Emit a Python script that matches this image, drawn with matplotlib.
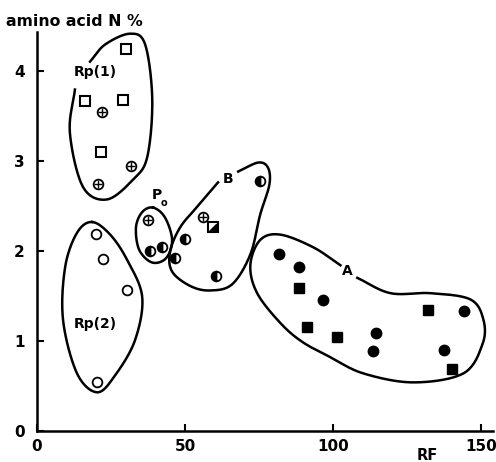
import numpy as np
import matplotlib.pyplot as plt
from matplotlib.path import Path

# point groups (RF, amino acid N %)
sq_open_x = [30.0, 16.2, 29.0, 21.6]
sq_open_y = [4.24, 3.66, 3.67, 3.10]
cross_x = [22.0, 31.7, 20.5, 37.5, 56.0]
cross_y = [3.54, 2.94, 2.74, 2.34, 2.37]
open_x = [19.8, 22.3, 30.4, 20.3]
open_y = [2.19, 1.91, 1.56, 0.54]
half_x = [38.2, 42.2, 46.6, 50.0, 60.5, 75.3]
half_y = [2.00, 2.04, 1.92, 2.13, 1.72, 2.78]
halfsq_x = [59.5]
halfsq_y = [2.26]
filled_x = [81.8, 88.5, 96.6, 114.5, 113.5, 144.0, 137.5]
filled_y = [1.97, 1.82, 1.45, 1.09, 0.89, 1.33, 0.90]
sq_fill_x = [88.5, 91.2, 101.3, 131.8, 139.9]
sq_fill_y = [1.59, 1.16, 1.04, 1.34, 0.69]

# hand drawn group outlines (control points)
rp1_line = [(17.9, 4.10), (23.0, 4.29), (31.4, 4.41), (36.5, 4.29), (38.9, 3.68),
            (37.2, 3.04), (32.4, 2.79), (23.6, 2.57), (15.5, 2.71), (11.1, 3.31),
            (12.8, 3.79)]
rp2_line = [(18.6, 2.32), (24.7, 2.18), (30.4, 1.90), (35.5, 1.49), (33.1, 1.01),
            (26.4, 0.62), (20.3, 0.43), (13.5, 0.64), (8.8, 1.23), (9.5, 1.82),
            (13.5, 2.20)]
po_line = [(39.2, 2.48), (43.2, 2.37), (45.6, 2.12), (43.6, 1.92), (38.9, 1.87),
           (34.5, 2.01), (33.4, 2.26), (35.5, 2.43)]
b_line = [(61.1, 2.76), (54.1, 2.49), (48.3, 2.26), (44.9, 1.99), (45.6, 1.77),
          (51.7, 1.61), (58.4, 1.56), (65.9, 1.63), (72.0, 1.96), (75.3, 2.40),
          (78.4, 2.73), (78.0, 2.92), (74.7, 2.98), (67.9, 2.88)]
a_line = [(108.1, 1.70), (119.3, 1.53), (132.8, 1.53), (146.3, 1.46), (150.7, 1.23),
          (150.3, 0.96), (143.9, 0.64), (127.0, 0.54), (110.1, 0.64), (99.0, 0.82),
          (89.5, 0.99), (82.1, 1.20), (74.3, 1.53), (72.0, 1.84), (75.3, 2.12),
          (82.1, 2.18), (93.2, 2.04), (102.4, 1.84)]


def smooth(pts, closed=False, n=20):
    p = np.array(pts, dtype=float)
    if closed:
        p = np.vstack([p[-1], p, p[0], p[1]])
    else:
        p = np.vstack([2 * p[0] - p[1], p, 2 * p[-1] - p[-2]])
    t = np.linspace(0, 1, n, endpoint=False)[:, None]
    out = []
    for i in range(1, len(p) - 2):
        p0, p1, p2, p3 = p[i - 1], p[i], p[i + 1], p[i + 2]
        out.append(0.5 * (2 * p1 + (-p0 + p2) * t + (2 * p0 - 5 * p1 + 4 * p2 - p3) * t**2
                          + (-p0 + 3 * p1 - 3 * p2 + p3) * t**3))
    out.append(p[-2][None, :])
    return np.vstack(out)


fig = plt.figure(figsize=(4.96, 4.62), dpi=100)
ax = fig.add_axes([0.0746, 0.067, 0.92, 0.864])

lw = 1.8
for pts, closed in ((rp1_line, False), (rp2_line, True), (po_line, True),
                    (b_line, False), (a_line, False)):
    c = smooth(pts, closed)
    ax.plot(c[:, 0], c[:, 1], color='black', lw=lw)

ms = 7
ax.plot(sq_open_x, sq_open_y, 's', ms=ms, mfc='white', mec='black', mew=1.5, ls='none')
ax.plot(cross_x, cross_y, 'o', ms=ms, mfc='white', mec='black', mew=1.3, ls='none')
ax.plot(cross_x, cross_y, '+', ms=ms - 1.5, mec='black', mew=1.0, ls='none')
ax.plot(open_x, open_y, 'o', ms=ms, mfc='white', mec='black', mew=1.3, ls='none')
ax.plot(half_x, half_y, 'o', ms=ms, fillstyle='left', mfc='black', mfcalt='white',
        mec='black', mew=1.3, ls='none')
ax.plot(halfsq_x, halfsq_y, 's', ms=ms, mfc='white', mec='black', mew=1.5, ls='none')
ax.plot(halfsq_x, halfsq_y, marker=Path([(1, 1), (1, -1), (-1, -1), (1, 1)]),
        ms=ms - 2, mfc='black', mec='black', ls='none')
ax.plot(filled_x, filled_y, 'o', ms=ms + 0.5, color='black', ls='none')
ax.plot(sq_fill_x, sq_fill_y, 's', ms=ms, color='black', ls='none')

font = dict(fontsize=10, fontweight='bold', color='black')
ax.text(19.6, 3.99, 'Rp(1)', ha='center', va='center', **font)
ax.text(19.6, 1.19, 'Rp(2)', ha='center', va='center', **font)
ax.text(64.5, 2.80, 'B', ha='center', va='center', **font)
ax.text(104.7, 1.78, 'A', ha='center', va='center', **font)
ax.text(40.5, 2.62, 'P', ha='center', va='center', **font)
ax.text(43.0, 2.53, 'o', ha='center', va='center', fontsize=7, fontweight='bold')

ax.set_xlim(0, 154)
ax.set_ylim(0, 4.43)
ax.set_xticks([0, 50, 100, 150])
ax.set_yticks([0, 1, 2, 3, 4])
ax.tick_params(direction='in', length=5, width=1.5, labelsize=11)
ax.tick_params(axis='y', pad=9)
ax.tick_params(axis='x', pad=6)
for lab in ax.get_xticklabels() + ax.get_yticklabels():
    lab.set_fontweight('bold')
for side in ('top', 'right'):
    ax.spines[side].set_visible(False)
for side in ('left', 'bottom'):
    ax.spines[side].set_linewidth(1.8)

fig.text(6 / 496, 1 - 21 / 462, 'amino acid N %', ha='left', va='center',
         fontsize=11.3, fontweight='bold')
fig.text(427 / 496, 1 - 455 / 462, 'RF', ha='center', va='center',
         fontsize=10.5, fontweight='bold')

fig.savefig('out.png', dpi=100)
